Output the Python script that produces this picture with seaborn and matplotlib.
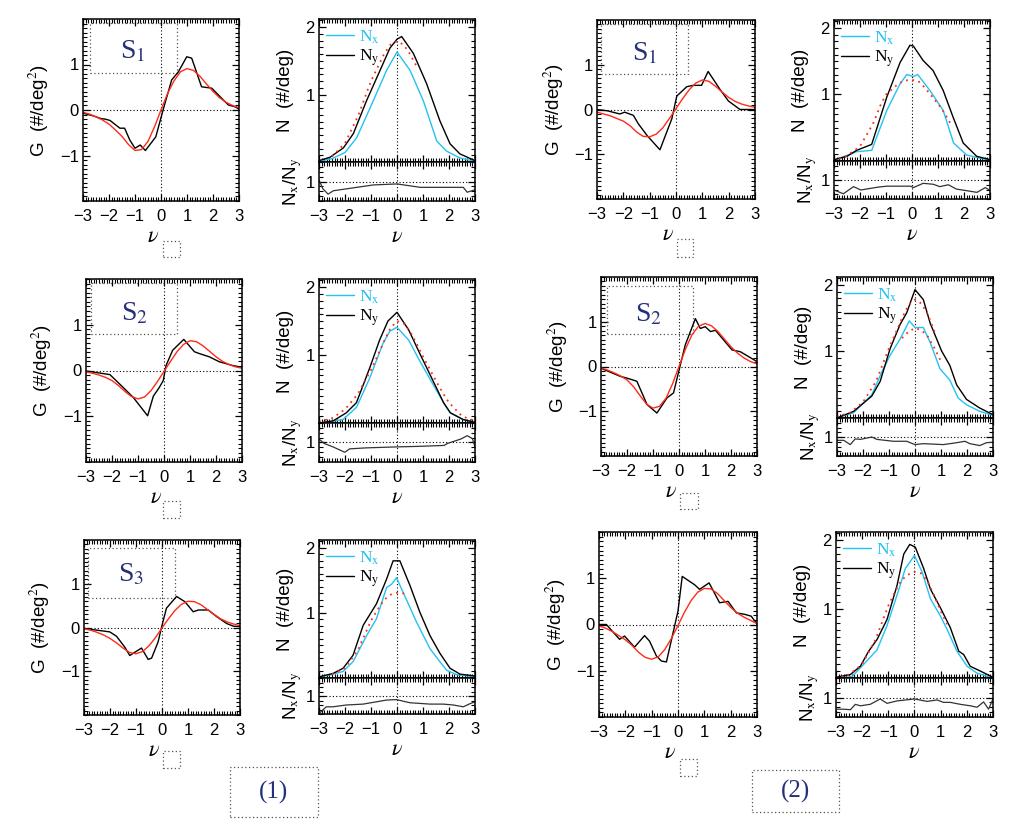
import matplotlib
matplotlib.use("Agg")
import matplotlib.pyplot as plt
from matplotlib.patches import Rectangle
from matplotlib.ticker import MultipleLocator, FixedLocator
import seaborn as sns

# ------------------------------------------------------------------ data
NU_FIT = [-3.0, -2.75, -2.5, -2.25, -2.0, -1.75, -1.5, -1.25, -1.0, -0.75, -0.5, -0.25,
          0.0, 0.25, 0.5, 0.75, 1.0, 1.25, 1.5, 1.75, 2.0, 2.25, 2.5, 2.75, 3.0]
NU_TICKS = [-3, -2, -1, 0, 1, 2, 3]

# ---- (1) S1
A1_G_nu = [-3.0, -2.6, -2.3, -2.15, -1.96, -1.58, -1.4, -1.2, -1.0, -0.8, -0.6, -0.2, 0.08, 0.41,
           0.67, 0.99, 1.18, 1.56, 1.95, 2.33, 2.59, 2.85, 3.0]
A1_G = [-0.07, -0.13, -0.19, -0.2, -0.23, -0.4, -0.4, -0.66, -0.84, -0.77, -0.89, -0.59, 0.0, 0.66,
        0.84, 1.17, 1.14, 0.51, 0.48, 0.26, 0.11, 0.07, 0.02]
A1_GFIT = [-0.05, -0.09, -0.15, -0.22, -0.31, -0.44, -0.58, -0.76, -0.89, -0.87, -0.69, -0.37,
           0.0, 0.36, 0.64, 0.84, 0.91, 0.87, 0.74, 0.57, 0.41, 0.27, 0.17, 0.10, 0.05]
A1_NY_nu = [-3.0, -2.58, -2.06, -1.68, -1.17, -0.65, -0.27, 0.0, 0.18, 0.63, 1.14, 1.65, 2.04, 2.42, 3.0]
A1_NY = [0.02, 0.07, 0.21, 0.42, 0.91, 1.36, 1.69, 1.82, 1.86, 1.61, 1.16, 0.61, 0.27, 0.12, 0.02]
A1_NX_nu = [-3.0, -2.5, -2.0, -1.55, -0.91, -0.4, 0.0, 0.5, 1.01, 1.53, 1.91, 2.42, 3.0]
A1_NX = [0.01, 0.05, 0.14, 0.36, 0.91, 1.36, 1.63, 1.36, 0.91, 0.31, 0.16, 0.06, 0.01]
A1_FIT_nu = [-2.5, -2.0, -1.5, -1.0, -0.5, -0.25, 0.0, 0.25, 0.5, 0.75]
A1_FIT = [0.08, 0.28, 0.68, 1.2, 1.6, 1.74, 1.79, 1.74, 1.6, 1.42]
A1_R_nu = [-3.0, -2.85, -2.65, -2.45, -1.68, -0.9, 0.0, 0.9, 1.8, 2.55, 2.7, 3.0]
A1_R = [1.03, 0.85, 0.74, 0.81, 0.87, 0.93, 0.95, 0.88, 0.88, 0.88, 0.78, 0.83]

# ---- (1) S2
A2_G_nu = [-3.0, -2.08, -1.57, -1.18, -0.63, -0.41, -0.18, -0.03, 0.08, 0.33, 0.76, 1.17, 1.36,
           1.74, 2.13, 2.64, 3.0]
A2_G = [-0.01, -0.09, -0.37, -0.59, -0.99, -0.56, -0.37, -0.22, 0.11, 0.44, 0.68, 0.41, 0.37,
        0.3, 0.19, 0.11, 0.07]
A2_GFIT = [-0.03, -0.06, -0.1, -0.15, -0.22, -0.33, -0.46, -0.57, -0.62, -0.58, -0.44, -0.24,
           -0.02, 0.2, 0.41, 0.57, 0.65, 0.63, 0.54, 0.42, 0.3, 0.2, 0.13, 0.08, 0.05]
A2_NY_nu = [-3.0, -2.46, -1.95, -1.56, -1.05, -0.67, -0.35, 0.0, 0.45, 0.88, 1.4, 1.79, 2.05, 2.55, 3.0]
A2_NY = [0.0, 0.03, 0.15, 0.3, 0.81, 1.22, 1.5, 1.63, 1.37, 1.02, 0.61, 0.3, 0.15, 0.05, 0.01]
A2_NX_nu = [-3.0, -2.08, -1.56, -1.05, -0.54, -0.28, 0.0, 0.45, 0.88, 1.4, 1.79, 2.05, 2.55, 3.0]
A2_NX = [0.0, 0.05, 0.23, 0.66, 1.17, 1.35, 1.41, 1.22, 0.91, 0.56, 0.3, 0.15, 0.05, 0.01]
A2_FIT_nu = [-3.0, -2.5, -2.0, -1.5, -1.0, -0.5, -0.25, 0.0, 0.25, 0.5, 0.75, 1.0, 1.25, 1.5,
             1.75, 2.0, 2.5, 3.0]
A2_FIT = [0.02, 0.07, 0.2, 0.43, 0.78, 1.2, 1.4, 1.5, 1.47, 1.35, 1.17, 0.98, 0.8, 0.62, 0.45,
          0.3, 0.1, 0.03]
A2_R_nu = [-3.0, -2.8, -2.46, -2.01, -1.82, -1.18, 0.0, 0.78, 1.81, 1.94, 2.45, 2.7, 2.9, 3.0]
A2_R = [1.07, 0.98, 0.91, 0.8, 0.87, 0.89, 0.91, 0.92, 0.94, 0.98, 1.07, 1.14, 1.08, 0.91]

# ---- (1) S3
A3_G_nu = [-3.0, -2.52, -2.01, -1.75, -1.43, -1.24, -0.79, -0.53, -0.4, -0.15, -0.02, 0.17, 0.56,
           0.88, 1.2, 1.4, 1.78, 2.1, 2.49, 2.75, 3.0]
A3_G = [-0.02, -0.06, -0.1, -0.2, -0.45, -0.64, -0.47, -0.73, -0.7, -0.33, 0.0, 0.44, 0.71, 0.59,
        0.36, 0.4, 0.4, 0.25, 0.09, 0.03, 0.02]
A3_GFIT = [-0.03, -0.06, -0.11, -0.17, -0.25, -0.35, -0.47, -0.57, -0.6, -0.55, -0.42, -0.23,
           -0.01, 0.2, 0.39, 0.53, 0.6, 0.59, 0.52, 0.41, 0.3, 0.2, 0.13, 0.08, 0.04]
A3_NY_nu = [-2.97, -2.46, -2.07, -1.69, -1.3, -0.79, -0.4, -0.15, 0.11, 0.5, 0.88, 1.27, 1.65,
            2.04, 2.42, 3.0]
A3_NY = [0.02, 0.07, 0.15, 0.35, 0.81, 1.14, 1.52, 1.8, 1.8, 1.42, 1.01, 0.65, 0.38, 0.15, 0.06, 0.03]
A3_NX_nu = [-2.97, -2.07, -1.69, -1.17, -0.79, -0.4, -0.21, -0.02, 0.3, 0.75, 1.27, 1.65, 1.91, 2.3, 3.0]
A3_NX = [0.01, 0.1, 0.25, 0.65, 0.91, 1.39, 1.44, 1.54, 1.26, 0.86, 0.45, 0.25, 0.12, 0.05, 0.02]
A3_FIT_nu = [-2.5, -2.0, -1.5, -1.2, -1.0, -0.75, -0.5, -0.25, 0.0, 0.25, 0.4]
A3_FIT = [0.06, 0.15, 0.43, 0.7, 0.88, 1.05, 1.2, 1.28, 1.31, 1.3, 1.28]
A3_R_nu = [-3.0, -2.72, -2.46, -1.95, -1.3, -0.4, -0.02, 0.5, 1.27, 1.78, 2.17, 2.55, 2.81, 3.0]
A3_R = [0.61, 0.76, 0.76, 0.8, 0.82, 0.91, 0.92, 0.85, 0.82, 0.82, 0.8, 0.76, 0.83, 0.87]

# ---- (2) S1
B1_G_nu = [-3.0, -2.6, -2.13, -1.95, -1.62, -1.43, -1.1, -0.61, -0.16, 0.03, 0.41, 0.66, 0.97,
           1.22, 1.67, 1.99, 2.43, 3.0]
B1_G = [0.0, -0.03, -0.1, -0.06, -0.13, -0.32, -0.58, -0.9, -0.21, 0.3, 0.51, 0.54, 0.54, 0.85,
        0.45, 0.19, 0.0, 0.0]
B1_GFIT = [-0.06, -0.1, -0.14, -0.2, -0.26, -0.36, -0.5, -0.6, -0.61, -0.55, -0.41, -0.2, 0.02,
           0.24, 0.44, 0.59, 0.66, 0.63, 0.52, 0.39, 0.27, 0.18, 0.12, 0.08, 0.05]
B1_NY_nu = [-3.0, -2.5, -2.13, -1.55, -0.97, -0.46, -0.08, 0.05, 0.43, 0.81, 1.2, 1.58, 1.97, 2.49, 3.0]
B1_NY = [0.02, 0.07, 0.16, 0.25, 0.96, 1.48, 1.74, 1.73, 1.51, 1.36, 1.06, 0.66, 0.27, 0.07, 0.02]
B1_NX_nu = [-3.0, -2.13, -1.55, -0.97, -0.46, -0.2, 0.05, 0.22, 0.69, 1.2, 1.6, 2.1, 3.0]
B1_NX = [0.01, 0.14, 0.16, 0.76, 1.16, 1.3, 1.27, 1.3, 1.06, 0.76, 0.27, 0.09, 0.01]
B1_FIT_nu = [-2.8, -2.5, -2.0, -1.5, -1.2, -1.0, -0.5, -0.25, 0.0, 0.25, 0.5, 0.75, 1.0, 1.25, 1.5]
B1_FIT = [0.03, 0.08, 0.22, 0.56, 0.85, 1.0, 1.17, 1.21, 1.22, 1.2, 1.1, 0.98, 0.86, 0.72, 0.55]
B1_R_nu = [-3.0, -2.64, -2.25, -1.97, -1.3, -0.97, -0.05, 0.05, 0.43, 0.82, 1.07, 1.4, 1.7, 2.5,
           2.82, 3.0]
B1_R = [0.79, 0.71, 0.86, 0.79, 0.85, 0.87, 0.87, 0.84, 0.93, 0.91, 0.86, 0.9, 0.81, 0.74, 0.84, 0.78]

# ---- (2) S2
B2_G_nu = [-3.0, -2.26, -2.0, -1.62, -1.23, -0.85, -0.46, -0.21, -0.01, 0.24, 0.63, 0.82, 1.01,
           1.21, 1.4, 1.72, 2.04, 2.36, 2.68, 3.0]
B2_G = [-0.04, -0.22, -0.26, -0.33, -0.85, -1.04, -0.7, -0.59, -0.11, 0.48, 1.07, 0.85, 0.89,
        0.78, 0.81, 0.59, 0.37, 0.33, 0.22, 0.11]
B2_GFIT = [-0.03, -0.08, -0.14, -0.21, -0.3, -0.45, -0.65, -0.84, -0.93, -0.89, -0.71, -0.39,
           0.0, 0.39, 0.71, 0.9, 0.96, 0.91, 0.78, 0.61, 0.44, 0.3, 0.19, 0.11, 0.06]
B2_NY_nu = [-2.94, -2.36, -1.66, -1.34, -0.96, -0.57, -0.32, 0.0, 0.32, 0.58, 1.02, 1.34, 1.6,
            1.98, 2.49, 3.0]
B2_NY = [0.01, 0.1, 0.33, 0.55, 1.04, 1.41, 1.58, 1.93, 1.78, 1.43, 1.01, 0.79, 0.5, 0.28, 0.15, 0.05]
B2_NX_nu = [-2.94, -2.36, -1.66, -1.28, -0.96, -0.57, -0.22, 0.0, 0.32, 0.58, 0.96, 1.34, 1.66,
            1.98, 2.49, 3.0]
B2_NX = [0.01, 0.08, 0.35, 0.69, 0.94, 1.19, 1.46, 1.36, 1.36, 1.14, 0.74, 0.57, 0.3, 0.2, 0.1, 0.04]
B2_FIT_nu = [-3.0, -2.5, -2.0, -1.5, -1.0, -0.5, -0.25, 0.0, 0.25, 0.5, 0.75]
B2_FIT = [0.02, 0.08, 0.24, 0.55, 1.05, 1.5, 1.7, 1.78, 1.72, 1.55, 1.3]
B2_FIT2_nu = [-0.5, -0.25, 0.0, 0.25, 0.5, 0.75, 1.0]
B2_FIT2 = [1.2, 1.3, 1.35, 1.32, 1.22, 1.05, 0.85]
B2_R_nu = [-3.0, -2.74, -2.49, -2.3, -2.1, -1.66, -1.47, -0.83, -0.32, 0.0, 0.32, 1.09, 1.6, 1.92,
           2.11, 2.49, 2.75, 3.0]
B2_R = [0.93, 0.93, 0.84, 0.96, 0.95, 1.0, 0.95, 0.91, 0.91, 0.84, 0.86, 0.84, 0.88, 0.91, 0.86,
        0.82, 0.88, 0.89]

# ---- (2) S3
B3_G_nu = [-3.0, -2.72, -2.22, -2.03, -1.65, -1.27, -1.08, -0.82, -0.63, -0.44, 0.0, 0.16, 0.63,
           0.82, 1.18, 1.58, 1.9, 2.22, 2.53, 2.78, 3.0]
B3_G = [0.0, 0.0, -0.32, -0.25, -0.49, -0.24, -0.36, -0.68, -0.79, -0.81, 0.29, 1.04, 0.86, 0.76,
        0.9, 0.47, 0.5, 0.25, 0.22, 0.18, 0.01]
B3_GFIT = [-0.03, -0.08, -0.15, -0.24, -0.33, -0.45, -0.6, -0.71, -0.75, -0.7, -0.54, -0.3,
           -0.02, 0.27, 0.52, 0.7, 0.78, 0.77, 0.67, 0.52, 0.37, 0.25, 0.16, 0.09, 0.02]
B3_NY_nu = [-3.0, -2.45, -2.07, -1.75, -1.43, -1.05, -0.67, -0.41, -0.18, 0.03, 0.35, 0.61, 0.99,
            1.37, 1.69, 1.88, 2.13, 2.52, 3.0]
B3_NY = [0.01, 0.05, 0.17, 0.39, 0.56, 0.85, 1.34, 1.8, 1.94, 1.9, 1.59, 1.29, 1.02, 0.73, 0.39,
         0.34, 0.17, 0.1, 0.01]
B3_NX_nu = [-3.0, -2.39, -2.01, -1.43, -1.05, -0.67, -0.35, 0.0, 0.29, 0.61, 0.99, 1.24, 1.62,
            2.01, 2.39, 3.0]
B3_NX = [0.0, 0.02, 0.17, 0.41, 0.76, 1.2, 1.59, 1.78, 1.54, 1.15, 0.9, 0.71, 0.39, 0.17, 0.07, 0.0]
B3_FIT_nu = [-2.8, -2.5, -2.0, -1.5, -1.2, -1.0, -0.75, -0.5, -0.25, 0.0, 0.25, 0.5, 0.75, 1.0, 1.25]
B3_FIT = [0.02, 0.05, 0.2, 0.55, 0.85, 1.05, 1.25, 1.42, 1.5, 1.54, 1.52, 1.4, 1.2, 0.97, 0.78]
B3_R_nu = [-2.96, -2.7, -2.45, -2.26, -2.07, -1.69, -1.31, -1.05, -0.67, 0.0, 0.48, 0.86, 1.11,
           1.37, 1.75, 2.13, 2.39, 2.64, 2.83, 3.0]
B3_R = [0.76, 0.76, 0.75, 0.86, 0.83, 0.86, 0.97, 0.88, 0.93, 0.97, 0.92, 0.95, 0.9, 0.9, 0.86,
        0.83, 0.8, 0.91, 0.76, 0.97]

SAMPLE_LABELS = ["S", "S", "S"]
SAMPLE_INDEX = ["1", "2", "3"]
GROUP_LABELS = ["(1)", "(2)"]

# ------------------------------------------------------------------ style
sns.set_theme(style="ticks")
plt.rcParams.update({
    "font.family": ["Liberation Sans", "DejaVu Sans"],
    "mathtext.fontset": "stix",
    "axes.linewidth": 1.1,
    "axes.edgecolor": "black",
    "axes.facecolor": "white",
    "xtick.color": "black",
    "ytick.color": "black",
    "axes.labelcolor": "black",
    "xtick.direction": "in",
    "ytick.direction": "in",
    "xtick.top": True,
    "ytick.right": True,
    "xtick.minor.visible": True,
    "ytick.minor.visible": True,
    "xtick.minor.size": 3.0,
    "ytick.minor.size": 3.0,
    "xtick.minor.width": 0.8,
    "ytick.minor.width": 0.8,
    "xtick.major.size": 5.0,
    "ytick.major.size": 5.0,
    "xtick.major.width": 0.9,
    "ytick.major.width": 0.9,
    "xtick.labelsize": 12,
    "ytick.labelsize": 12,
})

CYAN = "#22c2f2"
RED = "#ff2a1a"
NAVY = "#25307a"
DOT = (0, (1, 2))

W, H = 1012, 835
fig = plt.figure(figsize=(W / 100, H / 100), dpi=100)


def px_axes(l, t, r, b):
    return fig.add_axes([l / W, 1 - b / H, (r - l) / W, (b - t) / H])


def fig_box(l, t, r, b):
    fig.add_artist(Rectangle((l / W, 1 - b / H), (r - l) / W, (b - t) / H,
                             transform=fig.transFigure, fill=False, ls=DOT,
                             ec="#555555", lw=0.9))


def common_ticks(ax, ymajor, yminor):
    ax.set_xlim(-3, 3)
    ax.xaxis.set_major_locator(FixedLocator(NU_TICKS))
    ax.xaxis.set_minor_locator(MultipleLocator(0.1))
    ax.yaxis.set_major_locator(FixedLocator(ymajor))
    ax.yaxis.set_minor_locator(MultipleLocator(yminor))
    ax.tick_params(which="both", direction="in", top=True, right=True,
                   bottom=True, left=True, labelsize=12, color="black")
    ax.tick_params(axis="x", which="both", pad=6)
    ax.tick_params(axis="y", which="both", pad=3)
    ax.tick_params(which="major", length=5, width=0.9)
    ax.tick_params(which="minor", length=3.0, width=0.8)


def line(ax, x, y, color, lw=1.0, ls="-", label=None):
    sns.lineplot(x=x, y=y, ax=ax, color=color, linewidth=lw, linestyle=ls,
                 estimator=None, sort=False, label=label, legend=False)


PANELS = [
    dict(g=(83, 19, 239, 201), n=(319, 19, 475, 162, 201), small=(163, 241, 180, 257),
         G=(A1_G_nu, A1_G, A1_GFIT), N=(A1_NX_nu, A1_NX, A1_NY_nu, A1_NY),
         fits=[(A1_FIT_nu, A1_FIT)], R=(A1_R_nu, A1_R),
         sbox=(-2.75, 0.82, 0.6, 1.92), stext=(-1.1, 1.28), s=0),
    dict(g=(86, 279, 242, 462), n=(319, 279, 475, 423, 462), small=(163, 501, 180, 518),
         G=(A2_G_nu, A2_G, A2_GFIT), N=(A2_NX_nu, A2_NX, A2_NY_nu, A2_NY),
         fits=[(A2_FIT_nu, A2_FIT)], R=(A2_R_nu, A2_R),
         sbox=(-2.82, 0.8, 0.51, 1.91), stext=(-1.15, 1.24), s=1),
    dict(g=(84, 540, 240, 715), n=(319, 540, 475, 678, 714), small=(163, 751, 180, 768),
         G=(A3_G_nu, A3_G, A3_GFIT), N=(A3_NX_nu, A3_NX, A3_NY_nu, A3_NY),
         fits=[(A3_FIT_nu, A3_FIT)], R=(A3_R_nu, A3_R),
         sbox=(-2.85, 0.67, 0.5, 1.81), stext=(-1.17, 1.2), s=2),
    dict(g=(597, 20, 755, 199), n=(834, 20, 990, 161, 199), small=(677, 239, 693, 257),
         G=(B1_G_nu, B1_G, B1_GFIT), N=(B1_NX_nu, B1_NX, B1_NY_nu, B1_NY),
         fits=[(B1_FIT_nu, B1_FIT)], R=(B1_R_nu, B1_R),
         sbox=(-2.84, 0.8, 0.46, 1.9), stext=(-1.19, 1.24), s=0),
    dict(g=(601, 277, 757, 456), n=(837, 277, 993, 418, 456), small=(680, 493, 698, 509),
         G=(B2_G_nu, B2_G, B2_GFIT), N=(B2_NX_nu, B2_NX, B2_NY_nu, B2_NY),
         fits=[(B2_FIT_nu, B2_FIT), (B2_FIT2_nu, B2_FIT2)], R=(B2_R_nu, B2_R),
         sbox=(-2.77, 0.72, 0.54, 1.81), stext=(-1.17, 1.17), s=1),
    dict(g=(599, 532, 757, 717), n=(836, 532, 993, 678, 717), small=(680, 759, 697, 776),
         G=(B3_G_nu, B3_G, B3_GFIT), N=(B3_NX_nu, B3_NX, B3_NY_nu, B3_NY),
         fits=[(B3_FIT_nu, B3_FIT)], R=(B3_R_nu, B3_R),
         sbox=None, stext=None, s=2),
]

for p in PANELS:
    # ---------------- G panel
    ax = px_axes(*p["g"])
    ax.axhline(0, color="black", lw=0.8, ls=DOT)
    ax.axvline(0, color="black", lw=0.8, ls=DOT)
    gx, gy, gfit = p["G"]
    line(ax, gx, gy, "black", lw=1.0)
    line(ax, NU_FIT, gfit, RED, lw=1.0)
    ax.set_ylim(-2, 2)
    ax.set_ylabel("G  (#/deg$^2$)", fontsize=13.5, labelpad=6)
    ax.set_xlabel(r"$\nu$", fontsize=16, labelpad=1)
    ax.xaxis.label.set_x(0.45)
    if p["sbox"] is not None:
        x0, y0, x1, y1 = p["sbox"]
        ax.add_patch(Rectangle((x0, y0), x1 - x0, y1 - y0, fill=False, ls=DOT,
                               ec="#555555", lw=0.9))
        i = p["s"]
        ax.text(*p["stext"], SAMPLE_LABELS[i] + "$_{\\rm " + SAMPLE_INDEX[i] + "}$",
                fontsize=20, family="Liberation Serif", color=NAVY,
                ha="center", va="center")
    common_ticks(ax, [-1, 0, 1], 0.1)
    fig_box(*p["small"])

    # ---------------- N panel
    l, t, r, m, b = p["n"]
    axn = px_axes(l, t, r, m)
    axr = px_axes(l, m, r, b)
    nxx, nx, nyx, ny = p["N"]
    axn.axvline(0, color="black", lw=0.8, ls=DOT)
    line(axn, nxx, nx, CYAN, lw=1.0, label=r"N$_{\rm x}$")
    line(axn, nyx, ny, "black", lw=1.0, label=r"N$_{\rm y}$")
    for fx, fy in p["fits"]:
        line(axn, fx, fy, RED, lw=1.3, ls=(0, (1, 2.5)))
    axn.set_ylim(0, 2.12)
    axn.set_ylabel("N  (#/deg)", fontsize=13.5, labelpad=8)
    handles = axn.get_lines()[1:3]
    axn.legend(handles=handles, loc="upper left", bbox_to_anchor=(0.0, 0.985),
               frameon=False, prop={"family": "Liberation Serif", "size": 12.5},
               handlelength=1.6, handletextpad=0.3, labelspacing=0.1,
               borderaxespad=0.0, borderpad=0.42, labelcolor="linecolor")
    common_ticks(axn, [1, 2], 0.1)
    axn.tick_params(labelbottom=False)

    axr.axvline(0, color="black", lw=0.8, ls=DOT)
    axr.axhline(1, color="black", lw=0.8, ls=DOT)
    line(axr, p["R"][0], p["R"][1], "#333333", lw=0.9)
    axr.set_ylim(0.6, 1.4)
    axr.set_ylabel(r"N$_{\rm x}$/N$_{\rm y}$", fontsize=13.5, labelpad=1)
    axr.set_xlabel(r"$\nu$", fontsize=16, labelpad=1)
    common_ticks(axr, [1], 0.1)

# group labels
for (l, t, r, b), lab in zip([(230, 767, 318, 817), (752, 770, 839, 812)], GROUP_LABELS):
    fig_box(l, t, r, b)
    fig.text((l + r) / 2 / W, 1 - (t + b) / 2 / H, lab, fontsize=18,
             family="Liberation Serif", color=NAVY, ha="center", va="center")

fig.canvas.draw()
fig.savefig("out.png", dpi=100, facecolor="white")
